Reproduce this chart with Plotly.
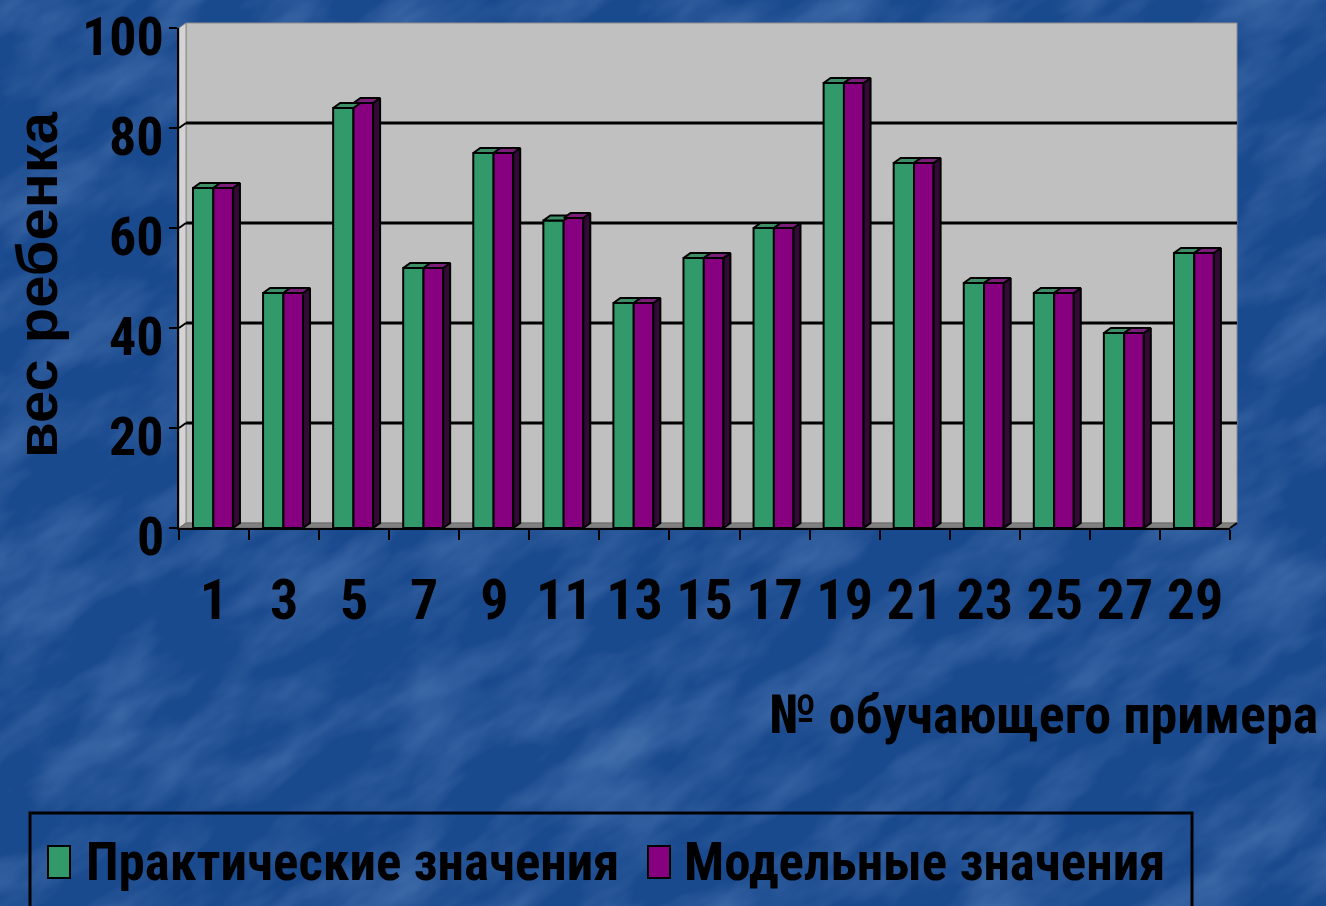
import base64
import plotly.graph_objects as go

# --- data -------------------------------------------------------------
example_no = ["1", "3", "5", "7", "9", "11", "13", "15", "17", "19", "21", "23", "25", "27", "29"]
practical = [68, 47, 84, 52, 75, 61.5, 45, 54, 60, 89, 73, 49, 47, 39, 55]
model = [68, 47, 85, 52, 75, 62, 45, 54, 60, 89, 73, 49, 47, 39, 55]
y_ticks = [0, 20, 40, 60, 80, 100]

name_practical = "Практические значения"
name_model = "Модельные значения"
y_title = "вес ребенка"
x_title = "№ обучающего примера"

# --- geometry ---------------------------------------------------------
W, H = 1326, 906
L, R, T, B = 179, 96, 28, 378
PW, PH = W - L - R, H - T - B
Y_MAX = 100
n = len(example_no)
xs = list(range(n))

DX, DY = 0.1, 1.0            # depth of the 3D effect (x units, value units)
G_OFF, G_W = -0.30, 0.29
P_OFF, P_W = -0.01, 0.28

def px(x_pix):
    return (x_pix - L) / PW

def py(y_pix):
    return 1 - (y_pix - T) / PH

dxp = DX * PW / n / PW       # depth in paper units
dyp = DY / Y_MAX

GREEN, GREEN_TOP = "#31996A", "#3E8E66"
PURPLE, PURPLE_TOP, PURPLE_SIDE = "#86007F", "#7A1E78", "#330A36"
NARROW = "Roboto Condensed, Open Sans Condensed, sans-serif"
WIDE = "Liberation Sans, Arial, sans-serif"

def top_faces(vals, off, w):
    fx, fy = [], []
    for c, v in zip(xs, vals):
        xl, xr = c + off, c + off + w
        fx += [xl, xl + DX, xr + DX, xr, xl, None]
        fy += [v, v + DY, v + DY, v, v, None]
    return fx, fy

def side_faces(vals, off, w):
    fx, fy = [], []
    for c, v in zip(xs, vals):
        xr = c + off + w
        fx += [xr, xr + DX, xr + DX, xr, xr, None]
        fy += [0, DY, v + DY, v, 0, None]
    return fx, fy

fig = go.Figure()

fig.add_trace(go.Bar(x=xs, y=practical, offset=G_OFF, width=G_W, name=name_practical,
                     marker=dict(color=GREEN, line=dict(color="black", width=2))))
fig.add_trace(go.Bar(x=xs, y=model, offset=P_OFF, width=P_W, name=name_model,
                     marker=dict(color=PURPLE, line=dict(color="black", width=2))))

gx, gy = top_faces(practical, G_OFF, G_W)
fig.add_trace(go.Scatter(x=gx, y=gy, mode="lines", fill="toself", fillcolor=GREEN_TOP,
                         line=dict(color="black", width=2), hoverinfo="skip"))
sx, sy = side_faces(model, P_OFF, P_W)
fig.add_trace(go.Scatter(x=sx, y=sy, mode="lines", fill="toself", fillcolor=PURPLE_SIDE,
                         line=dict(color="black", width=2), hoverinfo="skip"))
mx, my = top_faces(model, P_OFF, P_W)
fig.add_trace(go.Scatter(x=mx, y=my, mode="lines", fill="toself", fillcolor=PURPLE_TOP,
                         line=dict(color="black", width=2), hoverinfo="skip"))

# --- 3D walls and gridlines -----------------------------------------
shapes = [
    dict(type="rect", xref="paper", yref="paper", x0=dxp, x1=1 + dxp, y0=dyp, y1=1 + dyp,
         fillcolor="#C0C0C0", line=dict(color="#8C8C8C", width=1), layer="below"),
    dict(type="path", xref="paper", yref="paper", layer="below",
         path=f"M 0 0 L 0 1 L {dxp} {1 + dyp} L {dxp} {dyp} Z",
         fillcolor="#D4D4D4", line=dict(color="#8C8C8C", width=1)),
    dict(type="path", xref="paper", yref="paper", layer="below",
         path=f"M 0 0 L {dxp} {dyp} L {1 + dxp} {dyp} L 1 0 Z",
         fillcolor="#808080", line=dict(color="#6A6A6A", width=1)),
    dict(type="line", xref="paper", yref="paper", x0=1, y0=0, x1=1 + dxp, y1=dyp,
         line=dict(color="black", width=2)),
]
for v in y_ticks[1:-1]:
    yb = (v + DY) / Y_MAX
    shapes.append(dict(type="line", xref="paper", yref="paper", x0=dxp, x1=1 + dxp,
                       y0=yb, y1=yb, line=dict(color="black", width=3), layer="below"))
    shapes.append(dict(type="line", xref="paper", yref="paper", x0=0, x1=dxp,
                       y0=v / Y_MAX, y1=yb, line=dict(color="black", width=2), layer="below"))

# legend frame and swatches
shapes.append(dict(type="rect", xref="paper", yref="paper", x0=px(30), x1=px(1192),
                   y0=py(912), y1=py(813), line=dict(color="black", width=3)))
shapes.append(dict(type="rect", xref="paper", yref="paper", x0=px(48), x1=px(70),
                   y0=py(878), y1=py(846), fillcolor=GREEN, line=dict(color="black", width=2)))
shapes.append(dict(type="rect", xref="paper", yref="paper", x0=px(648), x1=px(670),
                   y0=py(878), y1=py(846), fillcolor=PURPLE, line=dict(color="black", width=2)))

annotations = [
    dict(text=name_practical, xref="paper", yref="paper", x=px(84), y=py(862),
         xanchor="left", yanchor="middle", showarrow=False,
         font=dict(family=NARROW, size=53, color="black", weight="bold")),
    dict(text=name_model, xref="paper", yref="paper", x=px(682), y=py(862),
         xanchor="left", yanchor="middle", showarrow=False,
         font=dict(family=NARROW, size=53, color="black", weight="bold")),
    dict(text=x_title, xref="paper", yref="paper", x=px(1320), y=py(714),
         xanchor="right", yanchor="middle", showarrow=False,
         font=dict(family=NARROW, size=54, color="black", weight="bold")),
    dict(text=y_title, xref="paper", yref="paper", x=px(36), y=py(285),
         xanchor="center", yanchor="middle", showarrow=False, textangle=-90,
         font=dict(family=WIDE, size=58, color="black", weight="bold")),
]
# value labels of the y axis, sitting slightly below their tick marks
for v in y_ticks:
    annotations.append(dict(text=str(v), xref="paper", yref="y", x=px(166), y=v,
                            yshift=-8, xanchor="right", yanchor="middle", showarrow=False,
                            font=dict(family=NARROW, size=54, color="black", weight="bold")))

# mottled blue backdrop
svg = f"""<svg xmlns='http://www.w3.org/2000/svg' width='{W}' height='{H}'>
<filter id='n' x='0' y='0' width='100%' height='100%'>
<feTurbulence type='fractalNoise' baseFrequency='0.008 0.02' numOctaves='4' seed='7'/>
<feColorMatrix type='matrix' values='0 0 0 0 0.32  0 0 0 0 0.50  0 0 0 0 0.82  1.5 0 0 0 -0.60'/>
</filter>
<rect width='100%' height='100%' fill='#1A4A8E'/>
<g transform='rotate(-35 {W/2} {H/2})'><rect x='-400' y='-400' width='{W+800}' height='{H+800}' filter='url(#n)' opacity='0.4'/></g>
</svg>"""
bg_src = "data:image/svg+xml;base64," + base64.b64encode(svg.encode()).decode()

fig.update_layout(
    width=W, height=H,
    margin=dict(l=L, r=R, t=T, b=B, pad=0, autoexpand=False),
    paper_bgcolor="#1A4A8E", plot_bgcolor="rgba(0,0,0,0)",
    showlegend=False, barmode="overlay",
    shapes=shapes, annotations=annotations,
    images=[dict(source=bg_src, xref="paper", yref="paper", x=px(0), y=py(0),
                 sizex=W / PW, sizey=H / PH, xanchor="left", yanchor="top",
                 sizing="stretch", layer="below")],
    xaxis=dict(range=[-0.5, n - 0.5], tickvals=xs, ticktext=example_no, ticks="",
               tickangle=0, showgrid=False, zeroline=False, showline=True,
               linecolor="black", linewidth=2, ticklabelstandoff=22,
               ticklabeloverflow="allow", automargin=False,
               minor=dict(tickvals=[i - 0.5 for i in range(n + 1)], ticks="outside",
                          ticklen=10, tickwidth=2, tickcolor="black", showgrid=False),
               tickfont=dict(family=NARROW, size=56, color="black", weight="bold")),
    yaxis=dict(range=[0, Y_MAX], tickvals=y_ticks, ticks="outside", ticklen=8,
               tickwidth=2, tickcolor="black", showgrid=False, zeroline=False,
               showline=True, linecolor="black", linewidth=2, showticklabels=False,
               automargin=False),
)

fig.write_html("out.html")
